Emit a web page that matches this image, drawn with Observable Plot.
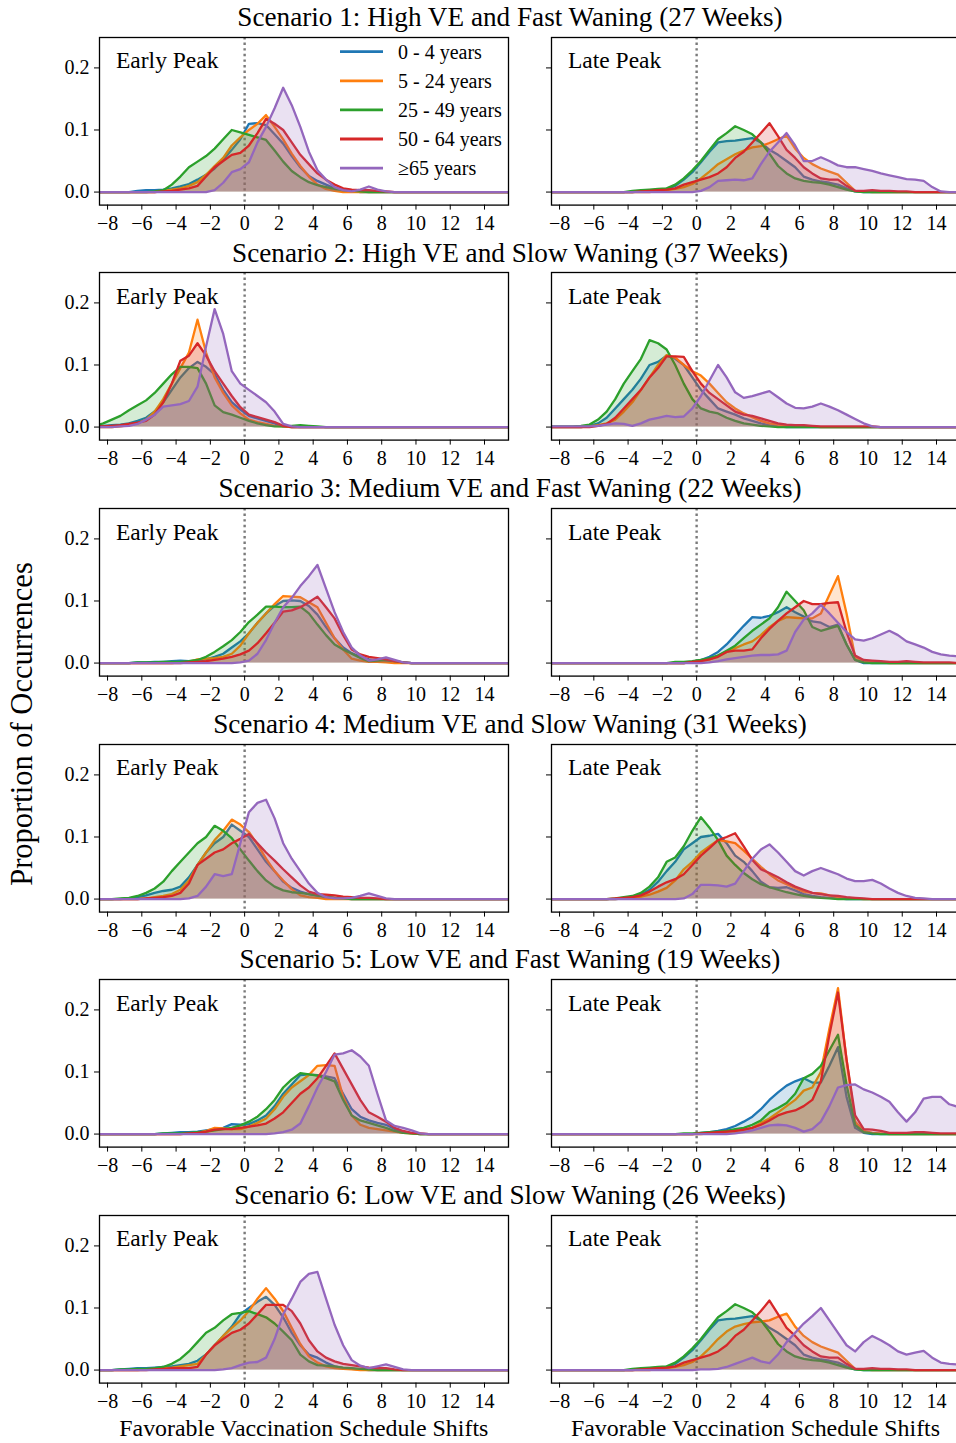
<!DOCTYPE html>
<html>
<head>
<meta charset="utf-8">
<script src="https://cdn.jsdelivr.net/npm/d3@7"></script>
<script src="https://cdn.jsdelivr.net/npm/@observablehq/plot@0.6"></script>
<style>
  body { margin: 0; background: #fff; }
  #fig { position: relative; width: 956px; height: 1443px; overflow: hidden; background: #fff;
         font-family: "Liberation Serif", "Times New Roman", serif; }
  #fig svg.panel { position: absolute; overflow: visible; }
  #fig svg text { font-family: "Liberation Serif", "Times New Roman", serif; }
  #overlay { position: absolute; left: 0; top: 0; pointer-events: none; }
</style>
</head>
<body>
<div id="fig"></div>
<script>
// ---------------- data ----------------
const ageGroups = ["0 - 4 years", "5 - 24 years", "25 - 49 years", "50 - 64 years", "\u226565 years"];
const colors = ["#1f77b4", "#ff7f0e", "#2ca02c", "#d62728", "#9467bd"];
const scenarioTitles = [
  "Scenario 1: High VE and Fast Waning (27 Weeks)",
  "Scenario 2: High VE and Slow Waning (37 Weeks)",
  "Scenario 3: Medium VE and Fast Waning (22 Weeks)",
  "Scenario 4: Medium VE and Slow Waning (31 Weeks)",
  "Scenario 5: Low VE and Fast Waning (19 Weeks)",
  "Scenario 6: Low VE and Slow Waning (26 Weeks)"
];
const peakLabels = ["Early Peak", "Late Peak"];
const xTicks = [-8, -6, -4, -2, 0, 2, 4, 6, 8, 10, 12, 14];
const yTicks = [0, 0.1, 0.2];
const xLabel = "Favorable Vaccination Schedule Shifts";
const yLabel = "Proportion of Occurrences";
const shiftStep = 0.5;     // spacing of the shift values
const gridFirst = -8.75, gridLast = 15.75;

// each series: first shift value, then proportions every 0.5 shift (zero outside)
// order: 0-4, 5-24, 25-49, 50-64, >=65
const s1Early = [
  {from: -6.25, v: [.002,.003,.003,.004,.006,.009,.013,.02,.028,.038,.052,.068,.085,.11,.111,.108,.093,.078,.058,.04,.026,.018,.012,.006,.004,.002]},
  {from: -4.75, v: [.002,.004,.006,.01,.016,.028,.042,.055,.075,.088,.1,.11,.124,.105,.085,.062,.042,.025,.012,.005,.002]},
  {from: -5.25, v: [.001,.003,.012,.025,.04,.049,.058,.07,.085,.1,.096,.092,.088,.084,.067,.049,.034,.024,.016,.011,.008,.005,.003,.002,.001]},
  {from: -4.75, v: [.001,.002,.004,.006,.01,.025,.04,.05,.06,.063,.075,.095,.118,.11,.1,.08,.06,.045,.03,.02,.012,.006,.004,.003,.003,.002,.001]},
  {from: -2.25, v: [0,.003,.015,.032,.037,.048,.08,.105,.135,.168,.14,.105,.065,.035,.02,.008,.003,.001,.004,.009,.004,.001]}
];
const s1Late = [
  {from: -3.25, v: [.002,.002,.003,.005,.01,.02,.032,.048,.065,.08,.082,.083,.085,.087,.08,.068,.06,.05,.04,.025,.02,.017,.015,.012,.006,.001]},
  {from: -2.25, v: [.002,.003,.005,.008,.013,.022,.033,.045,.053,.061,.067,.072,.074,.079,.085,.091,.07,.055,.045,.038,.033,.028,.015,.002,.001]},
  {from: -3.75, v: [.002,.003,.004,.005,.006,.012,.022,.035,.05,.068,.085,.095,.106,.1,.093,.08,.062,.042,.03,.022,.018,.016,.015,.012,.008,.004,.001]},
  {from: -3.25, v: [.001,.002,.003,.004,.006,.012,.016,.02,.024,.03,.04,.055,.065,.08,.095,.111,.09,.068,.055,.04,.03,.022,.02,.02,.01,.002,.002,.003,.002,.002,.001,.001]},
  {from: -0.25, v: [0,.002,.008,.018,.019,.02,.019,.022,.045,.065,.08,.095,.075,.05,.05,.056,.05,.043,.04,.04,.037,.034,.03,.027,.024,.021,.02,.018,.008,.001]}
];
const s2Early = [
  {from: -8.75, v: [.001,.002,.003,.004,.006,.01,.015,.025,.04,.06,.08,.095,.105,.097,.085,.06,.04,.028,.018,.014,.01,.006,.001]},
  {from: -7.25, v: [.001,.003,.006,.012,.025,.045,.07,.095,.12,.173,.12,.08,.055,.035,.022,.012,.008,.005,.002,.001]},
  {from: -8.75, v: [.002,.006,.012,.018,.027,.035,.043,.055,.07,.085,.097,.097,.095,.07,.035,.024,.02,.015,.01,.006,.003,.001,.001,.002,.003,.002,.001]},
  {from: -8.75, v: [.001,.001,.002,.003,.005,.007,.01,.02,.04,.07,.107,.115,.135,.115,.09,.07,.05,.032,.02,.016,.012,.008,.002]},
  {from: -7.25, v: [.001,.002,.005,.012,.02,.033,.035,.037,.042,.065,.13,.19,.15,.09,.07,.06,.05,.04,.025,.005,.001]}
];
const s2Late = [
  {from: -6.25, v: [.002,.006,.015,.03,.045,.06,.078,.1,.105,.115,.11,.1,.08,.06,.045,.03,.025,.02,.014,.01,.006,.003,.001]},
  {from: -6.25, v: [.001,.003,.006,.012,.025,.04,.06,.08,.1,.116,.112,.1,.09,.083,.07,.055,.04,.03,.022,.016,.01,.006,.004,.003,.002,.002,.001]},
  {from: -8.75, v: [.001,.001,.001,.001,.002,.004,.012,.025,.045,.07,.09,.11,.14,.135,.125,.1,.07,.045,.03,.025,.022,.015,.01,.006,.004,.002,.001]},
  {from: -5.75, v: [.002,.005,.015,.03,.045,.06,.08,.095,.114,.114,.113,.09,.07,.055,.045,.035,.025,.02,.018,.014,.01,.006,.004,.003,.003,.002,.001,.001,.001,.001,.001,.001,.001]},
  {from: -8.75, v: [.001,.001,.001,.001,.001,.001,.002,.004,.006,.005,.002,.006,.012,.015,.018,.016,.017,.03,.05,.075,.1,.08,.056,.047,.05,.054,.058,.048,.038,.031,.03,.033,.038,.033,.027,.02,.013,.006,.001]}
];
const s3Early = [
  {from: -6.25, v: [.001,.001,.002,.002,.003,.004,.003,.004,.006,.01,.015,.025,.035,.048,.065,.08,.092,.1,.101,.1,.092,.078,.058,.04,.025,.016,.01,.006,.004,.003,.002,.001]},
  {from: -3.75, v: [.001,.002,.006,.007,.008,.01,.015,.028,.048,.065,.08,.095,.108,.107,.106,.098,.09,.065,.04,.022,.007,.004,.002,.002,.001]},
  {from: -6.25, v: [.001,.001,.001,.002,.002,.002,.003,.005,.01,.018,.027,.037,.05,.066,.078,.091,.091,.09,.09,.091,.08,.062,.045,.03,.022,.015,.008,.003,.004,.005,.003,.001]},
  {from: -3.25, v: [.001,.002,.003,.005,.007,.01,.014,.02,.032,.048,.065,.083,.085,.09,.098,.107,.09,.072,.045,.022,.014,.01,.008,.006,.003,.001]},
  {from: -0.25, v: [.001,.004,.015,.037,.065,.09,.105,.124,.14,.158,.12,.082,.05,.025,.012,.004,.006,.009,.005,.001]}
];
const s3Late = [
  {from: -0.25, v: [.002,.005,.01,.018,.03,.045,.06,.074,.073,.076,.082,.09,.082,.075,.067,.065,.058,.062,.03,.005]},
  {from: -0.25, v: [.001,.003,.006,.012,.018,.024,.03,.035,.045,.058,.068,.074,.073,.072,.072,.08,.11,.14,.08,.01,.003,.002,.001]},
  {from: -1.25, v: [.002,.002,.003,.005,.008,.012,.02,.028,.04,.052,.062,.072,.09,.115,.1,.085,.058,.052,.056,.06,.03,.005,.001]},
  {from: -0.25, v: [.002,.003,.006,.01,.018,.02,.02,.022,.04,.055,.068,.08,.09,.1,.095,.095,.097,.098,.05,.012,.005,.004,.003,.002,.002,.003,.002,.001,.001,.001,.001]},
  {from: 0.75, v: [.001,.003,.006,.008,.01,.012,.013,.013,.014,.02,.05,.07,.08,.094,.08,.065,.05,.038,.036,.04,.046,.052,.045,.035,.03,.025,.018,.014,.012,.011]}
];
const s4Early = [
  {from: -6.75, v: [.001,.003,.006,.01,.013,.015,.02,.035,.055,.075,.09,.1,.12,.11,.1,.08,.06,.045,.028,.018,.012,.008,.005,.003,.002,.001]},
  {from: -5.75, v: [.001,.003,.005,.008,.015,.03,.055,.075,.095,.11,.128,.12,.108,.088,.065,.045,.03,.016,.006,.003,.002]},
  {from: -7.25, v: [.001,.002,.005,.01,.017,.028,.045,.06,.075,.09,.1,.118,.11,.098,.08,.062,.045,.03,.02,.014,.011,.01,.008,.006,.004,.002,.001]},
  {from: -5.75, v: [.001,.002,.003,.005,.01,.025,.055,.065,.075,.08,.09,.097,.105,.09,.075,.062,.048,.035,.022,.012,.008,.007,.006,.004,.003,.002,.002,.001]},
  {from: -3.25, v: [.001,.005,.02,.04,.037,.04,.09,.14,.155,.16,.13,.09,.065,.045,.025,.01,.003,.001,.001,.002,.005,.009,.005,.001]}
];
const s4Late = [
  {from: -4.25, v: [.001,.003,.007,.015,.028,.045,.06,.08,.09,.1,.102,.105,.09,.07,.06,.045,.028,.019,.018,.019,.014,.008,.005,.003,.002,.001]},
  {from: -4.25, v: [.001,.002,.004,.007,.012,.018,.03,.048,.06,.075,.085,.095,.093,.09,.078,.065,.052,.04,.03,.024,.018,.012,.01,.009,.006,.003,.002,.001]},
  {from: -4.75, v: [.001,.003,.005,.01,.02,.035,.06,.067,.085,.11,.132,.115,.095,.07,.055,.042,.032,.024,.019,.015,.011,.008,.005,.003,.002,.001]},
  {from: -4.75, v: [.001,.002,.003,.006,.012,.02,.027,.032,.04,.055,.07,.082,.095,.1,.106,.085,.063,.048,.042,.035,.027,.02,.015,.01,.008,.006,.005,.003,.002,.001]},
  {from: -0.75, v: [.001,.008,.023,.023,.022,.02,.025,.045,.065,.08,.088,.075,.06,.045,.038,.045,.05,.045,.04,.033,.029,.029,.031,.025,.017,.01,.005,.002,.001]}
];
const s5Early = [
  {from: -4.75, v: [.001,.002,.003,.003,.004,.006,.008,.01,.016,.015,.016,.022,.03,.045,.065,.08,.095,.096,.095,.093,.09,.065,.04,.028,.022,.018,.015,.008,.003,.001]},
  {from: -3.25, v: [.001,.002,.005,.01,.009,.008,.008,.012,.018,.025,.04,.06,.075,.085,.095,.11,.111,.11,.06,.03,.015,.01,.008,.006,.004,.002,.001]},
  {from: -4.75, v: [.001,.001,.001,.002,.003,.004,.006,.008,.01,.014,.02,.028,.04,.055,.075,.088,.098,.096,.094,.09,.085,.055,.03,.022,.018,.014,.01,.005,.002,.001]},
  {from: -3.25, v: [.001,.002,.004,.007,.008,.008,.01,.012,.014,.017,.025,.035,.05,.065,.075,.09,.11,.13,.105,.08,.055,.035,.028,.02,.01,.005,.002,.001]},
  {from: 1.75, v: [.001,.003,.007,.017,.045,.075,.1,.128,.13,.135,.125,.11,.065,.022,.013,.01,.006,.001]}
];
const s5Late = [
  {from: 0.25, v: [.002,.003,.005,.008,.013,.02,.028,.04,.055,.067,.078,.085,.09,.083,.083,.11,.14,.06,.01,.002]},
  {from: 0.75, v: [.001,.002,.003,.004,.006,.01,.018,.025,.035,.045,.055,.07,.075,.1,.17,.235,.12,.02,.005,.002,.001]},
  {from: -0.75, v: [.001,.001,.002,.003,.004,.005,.008,.01,.015,.022,.035,.042,.05,.065,.09,.097,.11,.135,.16,.08,.015,.003,.001]},
  {from: 0.25, v: [.001,.002,.003,.004,.005,.007,.01,.015,.022,.03,.035,.038,.045,.055,.085,.16,.228,.12,.03,.008,.007,.005,.002,.002,.002,.003,.003,.002,.001,.001,.001]},
  {from: 2.25, v: [.001,.003,.006,.01,.014,.015,.014,.01,.004,.008,.02,.045,.075,.079,.08,.072,.067,.06,.052,.035,.02,.035,.057,.06,.06,.048,.044]}
];
const s6Early = [
  {from: -7.25, v: [.001,.002,.003,.003,.004,.005,.006,.008,.01,.015,.025,.04,.055,.07,.09,.1,.11,.118,.105,.085,.06,.04,.025,.02,.012,.006,.003,.002,.001]},
  {from: -5.75, v: [.001,.002,.003,.004,.006,.008,.01,.025,.04,.055,.068,.08,.095,.115,.132,.115,.095,.068,.042,.022,.012,.006,.003,.002,.001]},
  {from: -7.25, v: [.001,.001,.002,.002,.003,.005,.01,.018,.03,.045,.06,.068,.08,.09,.092,.095,.09,.085,.075,.062,.048,.025,.014,.008,.007,.006,.004,.003,.002,.001]},
  {from: -5.25, v: [.001,.002,.003,.003,.003,.005,.025,.04,.05,.06,.065,.075,.09,.105,.105,.105,.095,.075,.048,.03,.02,.014,.01,.008,.006,.004,.003,.003,.001]},
  {from: -1.25, v: [.001,.003,.008,.012,.013,.02,.05,.09,.115,.142,.155,.158,.115,.073,.04,.016,.007,.003,.006,.009,.005,.001]}
];
const s6Late = [
  {from: -3.25, v: [.002,.002,.003,.005,.01,.02,.032,.048,.065,.08,.082,.083,.085,.087,.08,.068,.06,.05,.04,.025,.02,.017,.015,.012,.006,.001]},
  {from: -2.25, v: [.002,.003,.005,.008,.013,.022,.035,.05,.062,.07,.074,.077,.078,.08,.086,.091,.07,.055,.045,.038,.033,.028,.015,.002,.001]},
  {from: -3.75, v: [.002,.003,.004,.005,.006,.012,.022,.035,.05,.068,.085,.095,.106,.1,.093,.08,.062,.042,.03,.022,.018,.016,.015,.012,.008,.004,.001]},
  {from: -3.25, v: [.001,.002,.003,.004,.006,.012,.016,.02,.024,.03,.04,.055,.065,.08,.095,.112,.09,.068,.055,.04,.03,.022,.02,.02,.01,.002,.002,.003,.002,.002,.001,.001]},
  {from: -0.25, v: [0,.001,.001,.002,.005,.01,.015,.02,.014,.011,.025,.045,.06,.075,.087,.1,.08,.06,.04,.03,.045,.055,.048,.04,.03,.025,.028,.031,.02,.012,.01,.009]}
];
const panels = [
  [s1Early, s1Late], [s2Early, s2Late], [s3Early, s3Late],
  [s4Early, s4Late], [s5Early, s5Late], [s6Early, s6Late]
];

// ---------------- layout ----------------
const fig = document.getElementById("fig");
const frameW = 409, frameH = 167.6;
const mL = 50, mR = 10, mT = 10, mB = 35.4;
const leftX = 99.3, rightX = 551;
const firstTop = 36.7, rowStep = 235.6;
const serif = "'Liberation Serif', 'Times New Roman', serif";
const fmtX = d => d < 0 ? "\u2212" + (-d) : String(d);

function toRows(series) {
  const rows = [];
  const n = Math.round((gridLast - gridFirst) / shiftStep);
  series.forEach((s, g) => {
    for (let i = 0; i <= n; i++) {
      const x = gridFirst + i * shiftStep;
      const k = Math.round((x - s.from) / shiftStep);
      const y = (k >= 0 && k < s.v.length) ? s.v[k] : 0;
      rows.push({g, x, y});
    }
  });
  return rows;
}

function makePanel(series, showYLabels) {
  const rows = toRows(series);
  const marks = [
    Plot.ruleX([0], {stroke: "#7a7a7a", strokeWidth: 2.4, strokeDasharray: "2.4,3.2"})
  ];
  for (let g = 0; g < ageGroups.length; g++) {
    const d = rows.filter(r => r.g === g);
    marks.push(Plot.areaY(d, {x: "x", y: "y", fill: colors[g], fillOpacity: 0.2, clip: true}));
    marks.push(Plot.line(d, {x: "x", y: "y", stroke: colors[g], strokeWidth: 2.3, clip: true}));
  }
  marks.push(Plot.frame({stroke: "#000", strokeWidth: 1.3}));
  return Plot.plot({
    width: frameW + mL + mR,
    height: frameH + mT + mB,
    marginLeft: mL, marginRight: mR, marginTop: mT, marginBottom: mB,
    style: {fontFamily: serif, fontSize: "20px", color: "#000", background: "transparent", overflow: "visible"},
    x: {domain: [-8.47, 15.4], ticks: xTicks, tickFormat: fmtX, tickSize: 5, tickPadding: 6, label: null},
    y: {domain: [-0.021, 0.249], ticks: yTicks, tickFormat: showYLabels ? d3.format(".1f") : () => "",
        tickSize: 5, tickPadding: 5, label: null},
    marks
  });
}

panels.forEach((pair, r) => {
  pair.forEach((series, c) => {
    const svg = makePanel(series, c === 0);
    svg.classList.add("panel");
    svg.style.left = ((c === 0 ? leftX : rightX) - mL) + "px";
    svg.style.top = (firstTop + r * rowStep - mT) + "px";
    fig.appendChild(svg);
  });
});

// ---------------- text overlay ----------------
const ov = d3.select(fig).append("svg").attr("id", "overlay")
  .attr("width", 956).attr("height", 1443)
  .style("font-family", serif);

scenarioTitles.forEach((t, r) => {
  ov.append("text").attr("x", 510).attr("y", 26 + r * rowStep)
    .attr("text-anchor", "middle").attr("font-size", 27.2).text(t);
  ov.append("text").attr("x", leftX + 16.7).attr("y", 68.3 + r * rowStep)
    .attr("font-size", 23.5).text(peakLabels[0]);
  ov.append("text").attr("x", rightX + 17).attr("y", 68.3 + r * rowStep)
    .attr("font-size", 23.5).text(peakLabels[1]);
});

// legend (in first panel)
ageGroups.forEach((a, i) => {
  const yc = 51.7 + i * 29.1;
  ov.append("line").attr("x1", 340).attr("x2", 383).attr("y1", yc).attr("y2", yc)
    .attr("stroke", colors[i]).attr("stroke-width", 2.8);
  ov.append("text").attr("x", 398).attr("y", yc + 7.3).attr("font-size", 20).text(a);
});

[leftX + frameW / 2, rightX + frameW / 2].forEach(cx => {
  ov.append("text").attr("x", cx).attr("y", 1436).attr("text-anchor", "middle")
    .attr("font-size", 23.9).text(xLabel);
});
ov.append("text").attr("transform", "translate(32,724) rotate(-90)")
  .attr("text-anchor", "middle").attr("font-size", 30.5).text(yLabel);
</script>
</body>
</html>
